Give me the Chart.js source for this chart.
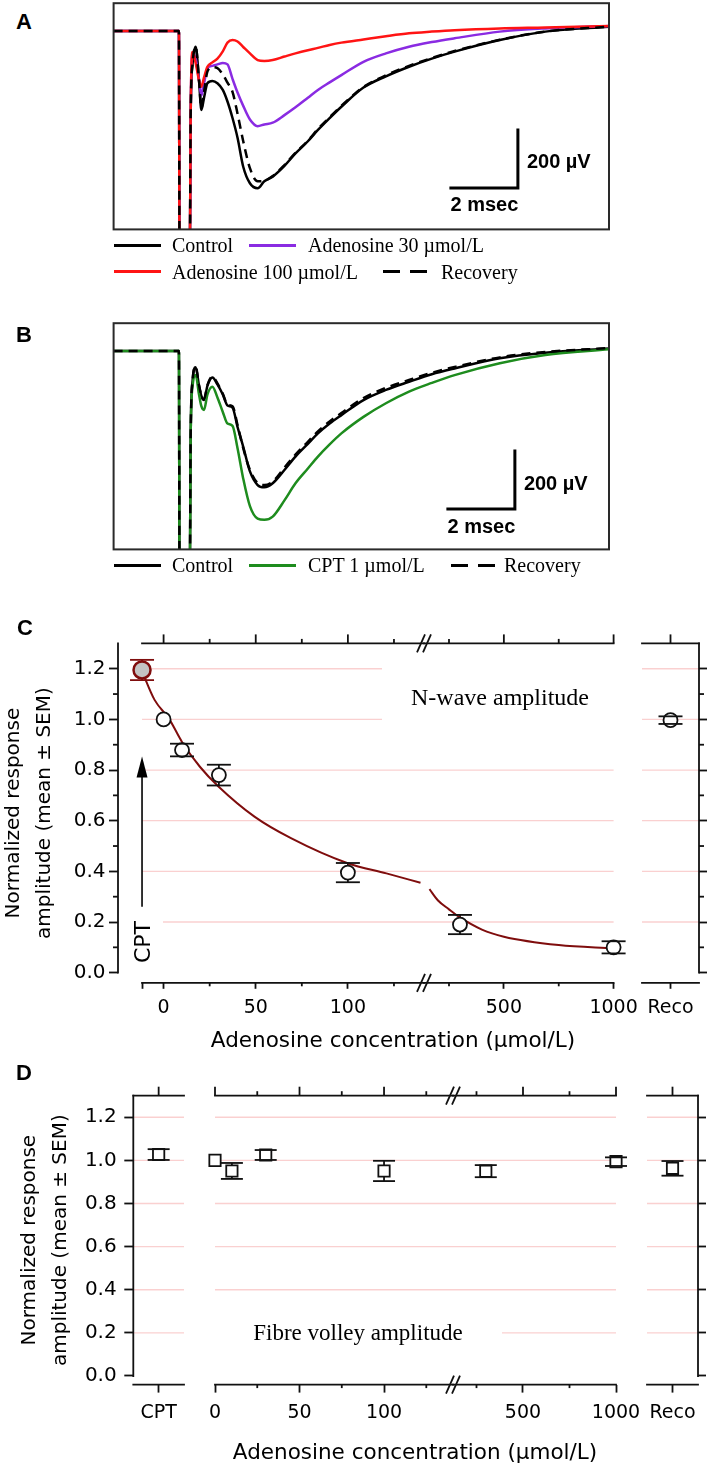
<!DOCTYPE html>
<html>
<head>
<meta charset="utf-8">
<title>Adenosin – N-wave und Fibre volley</title>
<script src="https://cdn.jsdelivr.net/npm/chart.js@4.4.1/dist/chart.umd.min.js"></script>
<style>
  html, body { margin: 0; padding: 0; background: #fff; }
  #fig { position: relative; width: 709px; height: 1466px; overflow: hidden; background: #fff; }
  #fig canvas { position: absolute; }
  .t { position: absolute; white-space: nowrap; z-index: 5; color: #000; }
  .letter { font: bold 22px "Liberation Sans", Arial, sans-serif; line-height: 24px; }
  .serif { font-family: "Liberation Serif", "Times New Roman", serif; }
  .sans { font-family: "DejaVu Sans", sans-serif; }
  .box { position: absolute; background: #fff; z-index: 4; }
  .leg-line { position: absolute; height: 3px; z-index: 5; }
</style>
</head>
<body>
<div id="fig">
  <div class="t letter" style="left:16px;top:10px">A</div>
  <div class="t letter" style="left:16px;top:323px">B</div>
  <div class="t letter" style="left:17px;top:616px">C</div>
  <div class="t letter" style="left:16px;top:1061px">D</div>

  <div class="box" style="left:382px;top:655px;width:232px;height:80px"></div>
  <div class="t serif" style="left:380px;width:240px;text-align:center;top:683px;font-size:24px;line-height:28px">N-wave amplitude</div>
  <div class="box" style="left:136px;top:912px;width:27px;height:56px"></div>
  <div class="t sans" style="left:143px;top:942px;font-size:22px;line-height:24px;transform:translate(-50%,-50%) rotate(-90deg)">CPT</div>
  <div class="t sans" style="left:143px;width:500px;text-align:center;top:1027px;font-size:21.5px;line-height:26px">Adenosine concentration (µmol/L)</div>

  <div class="box" style="left:215px;top:1320px;width:287px;height:26px"></div>
  <div class="t serif" style="left:238px;width:240px;text-align:center;top:1319px;font-size:23px;line-height:28px">Fibre volley amplitude</div>
  <div class="t sans" style="left:165px;width:500px;text-align:center;top:1439px;font-size:21.5px;line-height:26px">Adenosine concentration (µmol/L)</div>
</div>
<script>
// Zeitachse (ms) der Feldpotential-Spuren in A und B
const traceTime = [0, 1.95, 1.97, 2.27, 2.30, 2.36, 2.45, 2.55, 2.62, 2.70, 2.80, 2.95, 3.10, 3.26, 3.40, 3.55, 3.70, 3.87, 4.07, 4.30, 4.50, 4.75, 5.10, 5.43, 5.80, 6.10, 6.45, 6.80, 7.46, 8.13, 8.82, 9.50, 10.18, 11.53, 12.89, 14.79];

// Panel A (µV)
const aControl  = [0, 0, -900, -900, -300, -110, -54, -170, -272, -230, -180, -172, -180, -203, -243, -300, -368, -468, -525, -542, -518, -502, -465, -422, -380, -341, -300, -261, -195, -156, -123, -95, -71, -31, -2, 15];
const aAdo30    = [0, 0, -900, -900, -300, -80, -95, -170, -222, -180, -129, -120, -115, -110, -115, -165, -212, -258, -305, -328, -322, -316, -290, -263, -230, -203, -177, -152, -106, -77, -54, -38, -25, -2, 9, 17];
const aAdo100   = [0, 0, -900, -900, -300, -72, -110, -170, -192, -160, -123, -108, -95, -70, -40, -31, -36, -55, -77, -100, -103, -100, -88, -77, -66, -58, -48, -40, -29, -18, -8, -2, 3, 9, 12, 17];
const aRecovery = [0, 0, -900, -900, -300, -110, -54, -170, -265, -210, -140, -125, -128, -150, -178, -210, -285, -380, -473, -518, -516, -500, -462, -420, -378, -338, -297, -258, -193, -153, -120, -93, -69, -30, -2, 15];

// Panel B (µV)
const bControl  = [0, 0, -900, -900, -300, -100, -56, -120, -155, -169, -120, -91, -115, -150, -188, -195, -262, -330, -415, -462, -470, -456, -410, -364, -320, -284, -250, -221, -169, -134, -106, -80, -60, -25, -6, 9];
const bCpt      = [0, 0, -900, -900, -300, -120, -83, -150, -190, -203, -150, -123, -160, -210, -250, -258, -335, -440, -535, -578, -582, -571, -515, -456, -405, -364, -322, -284, -227, -180, -140, -110, -83, -42, -14, 6];
const bRecovery = [0, 0, -900, -900, -300, -100, -54, -118, -152, -165, -118, -88, -112, -147, -185, -190, -255, -335, -410, -455, -462, -450, -402, -357, -313, -277, -243, -214, -162, -127, -100, -75, -55, -22, -3, 10];

// Panel C: N-wave Amplitude (normiert)
const cConc = [0, 10, 30, 100, 300, 1000];
const cMean = [1.0, 0.879, 0.78, 0.395, 0.19, 0.10];
const cSem  = [0, 0.025, 0.041, 0.038, 0.038, 0.024];
const cCpt = [1.195], cCptSem = [0.04];
const cReco = [0.997], cRecoSem = [0.015];
const fitConc = [-11.6, -4.9, 3, 9.9, 19.7, 29.9, 49.3, 69.1, 99.9, 120.9, 139.4, 161, 200, 250, 300, 400, 500, 750, 1000];
const fitVal  = [1.188, 1.077, 1.002, 0.912, 0.813, 0.734, 0.616, 0.531, 0.432, 0.392, 0.355, 0.33, 0.285, 0.25, 0.218, 0.17, 0.142, 0.109, 0.096];

// Panel D: Fibre volley Amplitude (normiert)
const dConc = [0, 10, 30, 100, 300, 1000];
const dMean = [1.0, 0.951, 1.025, 0.951, 0.95, 0.994];
const dSem  = [0, 0.037, 0.023, 0.047, 0.028, 0.02];
const dCpt = [1.027], dCptSem = [0.025];
const dReco = [0.963], dRecoSem = [0.034];

// Achsen
const yMajor = [0, 0.2, 0.4, 0.6, 0.8, 1.0, 1.2];
const yMinorC = [0.1, 0.3, 0.5, 0.7, 0.9, 1.1];
const concTicksLow = [0, 50, 100];
const concMinorLow = [25, 75, 125];
const concTicksHigh = [500, 1000];
const concMinorHigh = [250, 750];
const yTitle = ['Normalized response', 'amplitude (mean ± SEM)'];

// Position der CPT-Gruppe in C und Pfeil (Datenkoordinaten)
const cptPos = -11.7;
const arrowFrom = 0.26, arrowTip = 0.853;

const ink = '#111';
const pink = 'rgba(245,150,150,0.45)';
const darkRed = '#7f0d0d';

Chart.defaults.font.family = '"DejaVu Sans", sans-serif';
Chart.defaults.color = '#000';

const fig = document.getElementById('fig');

function addCanvas(id, box) {
  const c = document.createElement('canvas');
  c.id = id;
  c.width = box.width;
  c.height = box.height;
  c.style.left = box.left + 'px';
  c.style.top = box.top + 'px';
  c.style.width = box.width + 'px';
  c.style.height = box.height + 'px';
  fig.appendChild(c);
  return c;
}

function seg(ctx, x1, y1, x2, y2) {
  ctx.beginPath();
  ctx.moveTo(x1, y1);
  ctx.lineTo(x2, y2);
  ctx.stroke();
}

// Fehlerbalken: Stiel unter, Kappen über den Markern
function drawErr(chart, caps) {
  const {ctx} = chart;
  const y = chart.scales.y;
  chart.data.datasets.forEach((ds, i) => {
    if (!ds.sem) return;
    chart.getDatasetMeta(i).data.forEach((pt, j) => {
      const s = ds.sem[j];
      if (!s) return;
      const d = ds.data[j];
      const m = typeof d === 'object' ? d.y : d;
      const yHi = y.getPixelForValue(m + s);
      const yLo = y.getPixelForValue(m - s);
      ctx.save();
      ctx.strokeStyle = ds.errColor || ink;
      ctx.lineWidth = 1.8;
      if (caps) {
        seg(ctx, pt.x - ds.cap, yHi, pt.x + ds.cap, yHi);
        seg(ctx, pt.x - ds.cap, yLo, pt.x + ds.cap, yLo);
      } else {
        seg(ctx, pt.x, yHi, pt.x, yLo);
      }
      ctx.restore();
    });
  });
}
const errPlugin = {
  id: 'errbars',
  beforeDatasetsDraw(chart) { drawErr(chart, false); },
  afterDatasetsDraw(chart) { drawErr(chart, true); }
};

// Rahmen, Gitter, Nebenstriche und Achsenbruch je Teilstück
function makeDeco(d) {
  const ends = (chart) => {
    const a = chart.chartArea, x = chart.scales.x;
    return [d.x0 === undefined ? a.left : x.getPixelForValue(d.x0),
            d.x1 === undefined ? a.right : x.getPixelForValue(d.x1)];
  };
  return {
    id: 'deco',
    beforeDatasetsDraw(chart) {
      const {ctx, scales: {y}} = chart;
      const [x0, x1] = ends(chart);
      ctx.save();
      ctx.strokeStyle = pink;
      ctx.lineWidth = 1.3;
      yMajor.slice(1).forEach(v => {
        const py = y.getPixelForValue(v);
        seg(ctx, x0, py, x1, py);
      });
      ctx.restore();
    },
    afterDraw(chart) {
      const {ctx, chartArea: a, scales: {x, y}} = chart;
      const [x0, x1] = ends(chart);
      const y0 = y.getPixelForValue(0);
      ctx.save();
      ctx.strokeStyle = ink;
      ctx.lineWidth = 1.8;
      ctx.lineCap = 'square';
      seg(ctx, x0, a.top, x1, a.top);
      seg(ctx, x0, a.bottom, x1, a.bottom);
      if (d.left) seg(ctx, a.left, a.top, a.left, y0);
      if (d.right) seg(ctx, a.right, a.top, a.right, y0);
      ctx.lineCap = 'butt';
      (d.topMajor || []).forEach(v => { const px = x.getPixelForValue(v); seg(ctx, px, a.top, px, a.top - 9); });
      (d.topMinor || []).forEach(v => { const px = x.getPixelForValue(v); seg(ctx, px, a.top, px, a.top - 4.5); });
      (d.botMinor || []).forEach(v => { const px = x.getPixelForValue(v); seg(ctx, px, a.bottom, px, a.bottom + 3.5); });
      (d.yMinor || []).forEach(v => {
        const py = y.getPixelForValue(v);
        const ax = d.right ? a.right : a.left;
        seg(ctx, ax, py, ax + (d.right ? 5 : -5), py);
      });
      if (d.brk) {
        [a.top, a.bottom].forEach(py => {
          [-3, 3].forEach(dx => seg(ctx, a.right + dx - 4, py + 9, a.right + dx + 4, py - 9));
        });
      }
      ctx.restore();
    }
  };
}

// Teilstück eines Diagramms (C, D)
function panelChart(id, box, area, o) {
  const canvas = addCanvas(id, box);
  const showY = !!(o.yLeft || o.yRight);
  const pad = {
    left: o.yLeft ? 0 : area.left - box.left,
    right: o.yRight ? 0 : box.left + box.width - area.right,
    top: area.top - box.top,
    bottom: 0
  };
  const x = o.labels ? {type: 'category', offset: true} : {
    type: 'linear', min: o.xMin, max: o.xMax,
    afterBuildTicks: s => { s.ticks = o.xTicks.map(v => ({value: v})); }
  };
  Object.assign(x, {
    position: 'bottom',
    grid: {drawOnChartArea: false, drawTicks: true, tickLength: o.xTickLen, tickWidth: 1.8, tickColor: ink, offset: false},
    border: {display: false},
    ticks: {font: {size: 19}, padding: o.xLabelPad, autoSkip: false, maxRotation: 0, minRotation: 0, color: '#000'},
    afterFit: s => { s.height = box.top + box.height - area.bottom; s.paddingLeft = 0; s.paddingRight = 0; }
  });
  if (!o.labels) x.ticks.callback = v => (v === o.hideTick ? '' : String(v));

  const y = {
    type: 'linear', min: -0.04, max: 1.3,
    display: showY,
    position: o.yRight ? 'right' : 'left',
    grid: {drawOnChartArea: false, drawTicks: true, tickLength: o.yRight ? 8 : 9, tickWidth: 1.8, tickColor: ink},
    border: {display: false},
    ticks: {display: !!o.yLeft, font: {size: 20}, padding: o.yLabelPad || 4, color: '#000', callback: v => v.toFixed(1)},
    afterBuildTicks: s => { s.ticks = yMajor.map(v => ({value: v})); },
    afterFit: s => {
      if (!showY) s.width = 0;
      else s.width = o.yLeft ? area.left - box.left : box.left + box.width - area.right;
      s.paddingTop = 0;
      s.paddingBottom = 0;
    },
    title: {display: !!o.yLeft, text: yTitle, color: '#000', font: {size: 20, lineHeight: 1.55}, padding: {top: o.yTitlePad || 0, bottom: 0}}
  };

  return new Chart(canvas, {
    type: o.labels ? 'line' : 'scatter',
    data: {labels: o.labels, datasets: o.datasets},
    options: {
      responsive: false, animation: false, devicePixelRatio: 1, events: [],
      layout: {autoPadding: false, padding: pad},
      plugins: {legend: {display: false}, tooltip: {enabled: false}},
      scales: {x, y}
    },
    plugins: [errPlugin, makeDeco(o.deco)].concat(o.extra || [])
  });
}

// Spuren A und B
function traceDeco(bar) {
  return {
    id: 'traceDeco',
    afterDraw(chart) {
      const {ctx, chartArea: a, scales: {x, y}} = chart;
      ctx.save();
      ctx.strokeStyle = '#2a2a2a';
      ctx.lineWidth = 2;
      ctx.strokeRect(a.left, a.top, a.right - a.left, a.bottom - a.top);
      const px = x.getPixelForValue(bar.t), py = y.getPixelForValue(bar.v);
      const pxL = x.getPixelForValue(bar.t - bar.dt), pyT = y.getPixelForValue(bar.v + bar.dv);
      ctx.strokeStyle = '#000';
      ctx.lineWidth = 3;
      ctx.lineCap = 'square';
      ctx.beginPath();
      ctx.moveTo(px, pyT);
      ctx.lineTo(px, py);
      ctx.lineTo(pxL, py);
      ctx.stroke();
      ctx.fillStyle = '#000';
      ctx.font = 'bold 20px "Liberation Sans", Arial, sans-serif';
      ctx.textBaseline = 'middle';
      ctx.textAlign = 'left';
      ctx.fillText(bar.dv + ' µV', px + 9, (py + pyT) / 2 + 4);
      ctx.textAlign = 'center';
      ctx.fillText(bar.dt + ' msec', (px + pxL) / 2, py + 18);
      ctx.restore();
    }
  };
}

function traceChart(id, box, area, series, bar) {
  const canvas = addCanvas(id, box);
  return new Chart(canvas, {
    type: 'scatter',
    data: {
      datasets: series.map(s => ({
        label: s.label,
        data: traceTime.map((t, k) => ({x: t, y: s.values[k]})),
        showLine: true, pointRadius: 0, borderColor: s.color, borderWidth: 2.5,
        borderDash: s.dash || [], cubicInterpolationMode: 'monotone', order: s.order
      }))
    },
    options: {
      responsive: false, animation: false, devicePixelRatio: 1, events: [],
      layout: {autoPadding: false, padding: {
        left: area.left - box.left, right: box.left + box.width - area.right,
        top: area.top - box.top, bottom: box.top + box.height - area.bottom}},
      plugins: {legend: {display: false}, tooltip: {enabled: false}},
      scales: {
        x: {type: 'linear', display: false, min: 0, max: 14.79},
        y: {type: 'linear', display: false, min: -684, max: 96}
      }
    },
    plugins: [traceDeco(bar)]
  });
}

function legend(series, spots) {
  series.forEach((s, i) => {
    const p = spots[i];
    const line = document.createElement('div');
    line.className = 'leg-line';
    line.style.left = p.x + 'px';
    line.style.top = (p.y - 1.5) + 'px';
    line.style.width = (s.dash ? 44 : 47) + 'px';
    line.style.background = s.dash
      ? `repeating-linear-gradient(90deg, ${s.color} 0 17px, transparent 17px 27px)`
      : s.color;
    fig.appendChild(line);
    const txt = document.createElement('div');
    txt.className = 't serif';
    txt.textContent = s.label;
    txt.style.left = p.tx + 'px';
    txt.style.top = (p.y - 10) + 'px';
    txt.style.fontSize = '20px';
    txt.style.lineHeight = '20px';
    fig.appendChild(txt);
  });
}

// ---- A ----
const seriesA = [
  {label: 'Control', color: '#000', values: aControl, order: 4},
  {label: 'Adenosine 30 µmol/L', color: '#8a2be2', values: aAdo30, order: 3},
  {label: 'Adenosine 100 µmol/L', color: '#ff1414', values: aAdo100, order: 2},
  {label: 'Recovery', color: '#000', values: aRecovery, order: 1, dash: [9, 6]}
];
traceChart('chartA', {left: 100, top: 0, width: 520, height: 240},
  {left: 113.6, top: 3.2, right: 609, bottom: 229.4}, seriesA,
  {t: 12.07, v: -541, dt: 2, dv: 200});
legend(seriesA, [{x: 114, y: 245, tx: 172}, {x: 249, y: 245, tx: 308}, {x: 114, y: 271.7, tx: 172}, {x: 383, y: 271.7, tx: 441}]);

// ---- B ----
const seriesB = [
  {label: 'Control', color: '#000', values: bControl, order: 3},
  {label: 'CPT 1 µmol/L', color: '#1e8c1e', values: bCpt, order: 2},
  {label: 'Recovery', color: '#000', values: bRecovery, order: 1, dash: [9, 6]}
];
traceChart('chartB', {left: 100, top: 310, width: 520, height: 250},
  {left: 113.6, top: 323.2, right: 609, bottom: 549.4}, seriesB,
  {t: 11.98, v: -545, dt: 2, dv: 200});
legend(seriesB, [{x: 114, y: 565, tx: 172}, {x: 249, y: 565, tx: 308}, {x: 451, y: 565, tx: 504}]);

// Daten nach Achsenabschnitt auswählen
function pick(xs, ys, es, test) {
  const idx = xs.map((_, i) => i).filter(i => test(xs[i]));
  return {data: idx.map(i => ({x: xs[i], y: ys[i]})), sem: idx.map(i => es[i])};
}
const circle = {pointStyle: 'circle', pointRadius: 7, pointBorderWidth: 1.8, pointBorderColor: ink, pointBackgroundColor: '#fff', showLine: false, clip: false, cap: 12};
const square = {pointStyle: 'rect', pointRadius: 8, pointBorderWidth: 1.8, pointBorderColor: ink, pointBackgroundColor: '#fff', showLine: false, clip: false, cap: 11};
const fitLine = {showLine: true, pointRadius: 0, borderColor: darkRed, borderWidth: 2, cubicInterpolationMode: 'monotone', order: 3};
const noSem = fitVal.map(() => 0);

// ---- C ----
const cBoxV = {top: 600, height: 466};
const cAreaV = {top: 643.4, bottom: 982.8};
const cLow = pick(cConc, cMean, cSem, c => c <= 141);
const cHigh = pick(cConc, cMean, cSem, c => c > 141);

const cptArrow = {
  id: 'cptArrow',
  afterDraw(chart) {
    const {ctx, scales: {x, y}} = chart;
    const px = x.getPixelForValue(cptPos);
    const yFrom = y.getPixelForValue(arrowFrom), yTip = y.getPixelForValue(arrowTip);
    ctx.save();
    ctx.strokeStyle = '#000';
    ctx.fillStyle = '#000';
    ctx.lineWidth = 1.6;
    seg(ctx, px, yFrom, px, yTip + 18);
    ctx.beginPath();
    ctx.moveTo(px, yTip);
    ctx.lineTo(px - 5.5, yTip + 21);
    ctx.lineTo(px + 5.5, yTip + 21);
    ctx.closePath();
    ctx.fill();
    ctx.restore();
  }
};

panelChart('chartC1', {left: 0, width: 440, ...cBoxV}, {left: 118, right: 424, ...cAreaV}, {
  xMin: -24.74, xMax: 141.3, xTicks: [cptPos].concat(concTicksLow), hideTick: cptPos,
  xTickLen: 6, xLabelPad: 7.8, yLeft: true, yLabelPad: 3.5, yTitlePad: -2,
  datasets: [
    {...circle, data: cLow.data, sem: cLow.sem, order: 1},
    {...circle, data: [{x: cptPos, y: cCpt[0]}], sem: cCptSem, errColor: darkRed, pointRadius: 8.5,
      pointBorderColor: darkRed, pointBorderWidth: 2.5, pointBackgroundColor: '#c4c4c4', order: 0},
    {...fitLine, data: pick(fitConc, fitVal, noSem, c => c <= 141).data}
  ],
  deco: {x0: cptPos, left: true, topMajor: concTicksLow, topMinor: concMinorLow, botMinor: concMinorLow, yMinor: yMinorC, brk: true},
  extra: [cptArrow]
});

panelChart('chartC2', {left: 380, width: 270, ...cBoxV}, {left: 424, right: 613.6, ...cAreaV}, {
  xMin: 136.1, xMax: 1000, xTicks: concTicksHigh, xTickLen: 6, xLabelPad: 7.8,
  datasets: [
    {...circle, data: cHigh.data, sem: cHigh.sem, order: 1},
    {...fitLine, data: pick(fitConc, fitVal, noSem, c => c > 141).data}
  ],
  deco: {x1: 1000, topMajor: concTicksHigh, topMinor: concMinorHigh, botMinor: concMinorHigh}
});

panelChart('chartC3', {left: 630, width: 79, ...cBoxV}, {left: 642, right: 699, ...cAreaV}, {
  labels: ['Reco'], xTickLen: 6, xLabelPad: 7.8, yRight: true,
  datasets: [{...circle, data: cReco, sem: cRecoSem}],
  deco: {right: true, topMajor: [0], yMinor: yMinorC}
});

// ---- D ----
const dBoxV = {top: 1050, height: 416};
const dAreaV = {top: 1095.7, bottom: 1384.6};
const dLow = pick(dConc, dMean, dSem, c => c <= 141);
const dHigh = pick(dConc, dMean, dSem, c => c > 141);

panelChart('chartD1', {left: 0, width: 200, ...dBoxV}, {left: 133.3, right: 184, ...dAreaV}, {
  labels: ['CPT'], xTickLen: 8, xLabelPad: 9.3, yLeft: true, yLabelPad: 7.6, yTitlePad: 14,
  datasets: [{...square, data: dCpt, sem: dCptSem}],
  deco: {left: true, topMajor: [0]}
});

panelChart('chartD2', {left: 190, width: 280, ...dBoxV}, {left: 215, right: 453, ...dAreaV}, {
  xMin: 0, xMax: 140.8, xTicks: concTicksLow, xTickLen: 8, xLabelPad: 9.3,
  datasets: [{...square, data: dLow.data, sem: dLow.sem}],
  deco: {topMajor: concTicksLow, topMinor: concMinorLow, botMinor: concMinorLow, brk: true}
});

panelChart('chartD3', {left: 430, width: 215, ...dBoxV}, {left: 453, right: 616, ...dAreaV}, {
  xMin: 123.7, xMax: 1000, xTicks: concTicksHigh, xTickLen: 8, xLabelPad: 9.3,
  datasets: [{...square, data: dHigh.data, sem: dHigh.sem}],
  deco: {x1: 1000, topMajor: concTicksHigh, topMinor: concMinorHigh, botMinor: concMinorHigh}
});

panelChart('chartD4', {left: 635, width: 74, ...dBoxV}, {left: 647, right: 698, ...dAreaV}, {
  labels: ['Reco'], xTickLen: 8, xLabelPad: 9.3, yRight: true,
  datasets: [{...square, data: dReco, sem: dRecoSem}],
  deco: {right: true, topMajor: [0]}
});
</script>
</body>
</html>
